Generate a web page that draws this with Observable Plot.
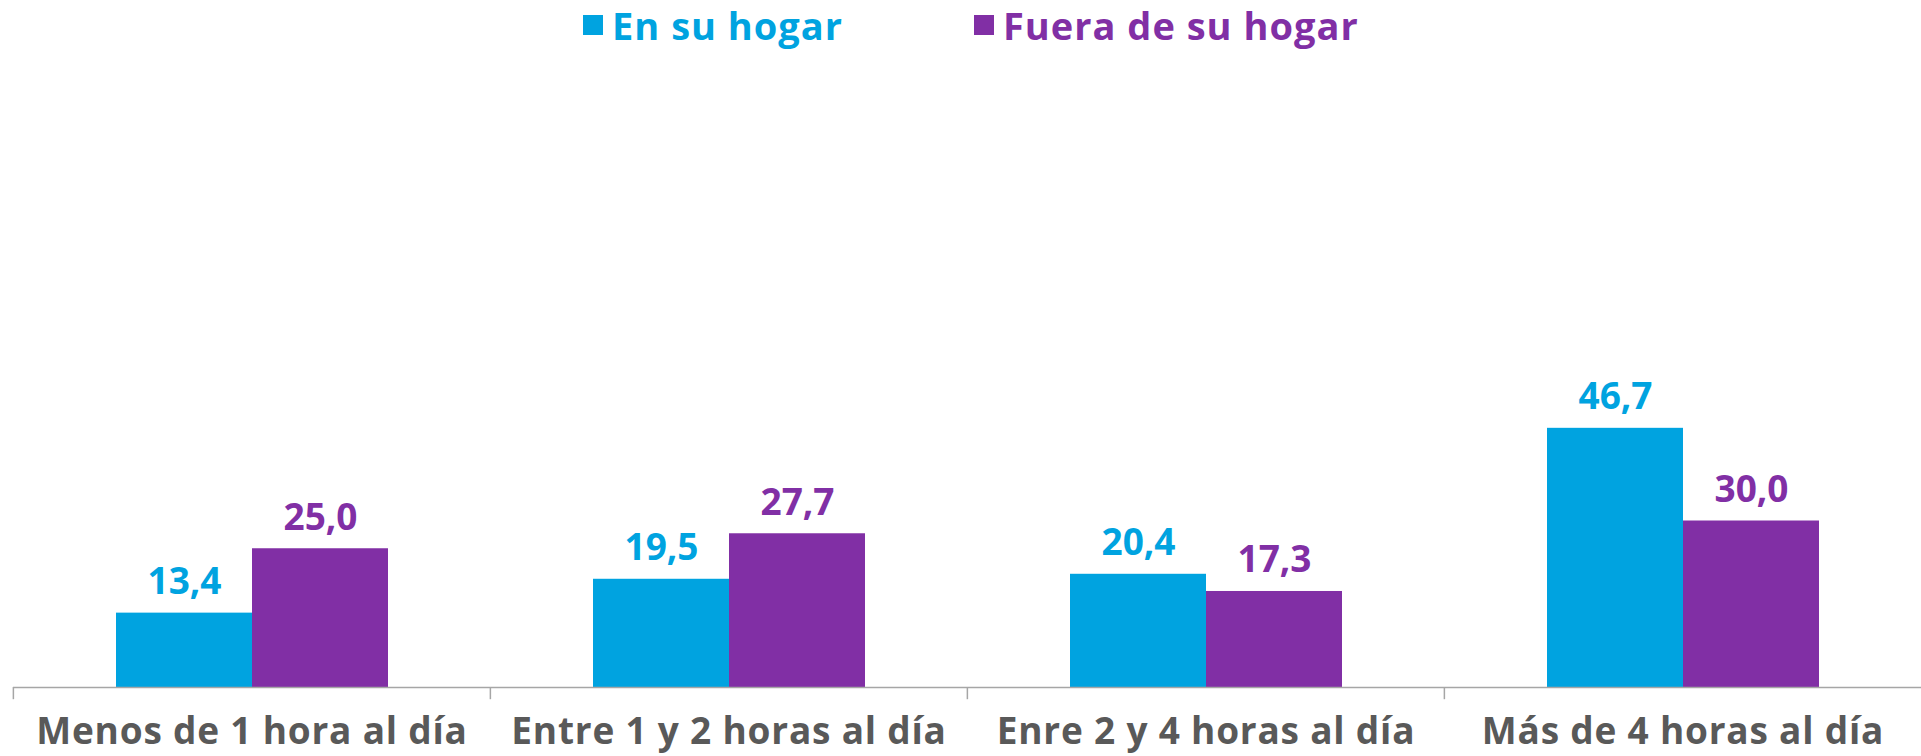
<!DOCTYPE html>
<html>
<head>
<meta charset="utf-8">
<script src="https://cdn.jsdelivr.net/npm/d3@7"></script>
<script src="https://cdn.jsdelivr.net/npm/@observablehq/plot@0.6"></script>
<style>
  html, body { margin: 0; padding: 0; background: #fff; }
  body { width: 1921px; height: 756px; overflow: hidden; font-family: "Open Sans", sans-serif; }
  #legend { position: relative; height: 60px; width: 1921px; }
  .item { position: absolute; top: 3px; display: flex; align-items: center; font-weight: 700; font-size: 38px; line-height: 44px; letter-spacing: 1px; }
  .swatch { width: 20px; height: 20px; margin-right: 9px; }
  svg g[aria-label="fx-axis tick label"] text { letter-spacing: 0.8px; }
</style>
</head>
<body>
<div id="legend"></div>
<div id="chart"></div>
<script>
const categories = ["Menos de 1 hora al día", "Entre 1 y 2 horas al día", "Enre 2 y 4 horas al día", "Más de 4 horas al día"];
const series = ["En su hogar", "Fuera de su hogar"];
const enSuHogar = [13.4, 19.5, 20.4, 46.7];
const fueraDeSuHogar = [25.0, 27.7, 17.3, 30.0];
const colors = ["#00A3E0", "#812FA5"];

const data = [];
categories.forEach((c, i) => {
  data.push({category: c, series: series[0], value: enSuHogar[i]});
  data.push({category: c, series: series[1], value: fueraDeSuHogar[i]});
});

const fmt = v => v.toFixed(1).replace(".", ",");

// legend
const legend = document.getElementById("legend");
const legendLeft = [583, 974];
series.forEach((s, i) => {
  const item = document.createElement("div");
  item.className = "item";
  item.style.left = legendLeft[i] + "px";
  item.style.color = colors[i];
  const sw = document.createElement("div");
  sw.className = "swatch";
  sw.style.background = colors[i];
  item.appendChild(sw);
  item.appendChild(document.createTextNode(s));
  legend.appendChild(item);
});

const width = 1921, marginLeft = 12, marginRight = 0;
const facetW = (width - marginLeft - marginRight) / categories.length;

const chart = Plot.plot({
  width,
  height: 696,
  marginLeft, marginRight,
  marginTop: 72,
  marginBottom: 69,
  style: {fontFamily: "Open Sans, sans-serif", background: "#fff", overflow: "visible"},
  fx: {domain: categories, padding: 0, label: null, axis: null},
  x: {domain: series, paddingInner: 0, paddingOuter: 0.75, axis: null},
  y: {domain: [0, 100], axis: null},
  color: {domain: series, range: colors},
  marks: [
    Plot.barY(data, {fx: "category", x: "series", y: "value", fill: "series"}),
    Plot.text(data, {fx: "category", x: "series", y: "value", text: d => fmt(d.value), fill: "series",
      lineAnchor: "bottom", dy: -19, fontSize: 37, fontWeight: 700}),
    Plot.ruleY([0], {stroke: "#A6A6A6", strokeWidth: 1.5}),
    Plot.ruleX(categories, {fx: d => d, x: null, y1: 0, y2: -2.2, dx: -facetW / 2, stroke: "#A6A6A6", strokeWidth: 1.5}),
    Plot.axisFx({anchor: "bottom", tickSize: 0, tickPadding: 30, fontSize: 37, fontWeight: 700, fill: "#595959", label: null})
  ]
});
document.getElementById("chart").appendChild(chart);
</script>
</body>
</html>
